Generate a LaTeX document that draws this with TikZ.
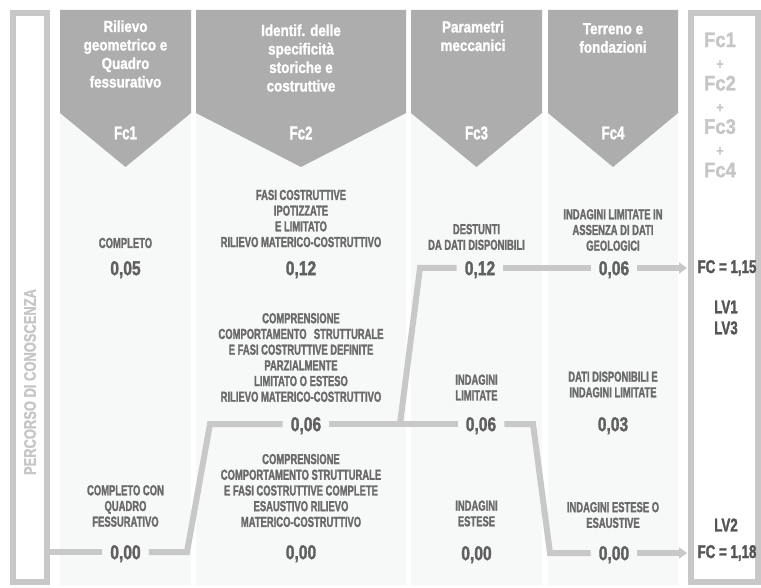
\documentclass[tikz,border=0pt]{standalone}
\usepackage{fontspec}
\setmainfont{Liberation Sans}
\newfontfamily\hdfont{Liberation Sans Bold}[FakeStretch=0.84,FakeBold=1.5]
\newfontfamily\bdfont{Liberation Sans Bold}[FakeStretch=0.65,FakeBold=1.5]
\newfontfamily\nmfont{Liberation Sans Bold}[FakeStretch=0.78,FakeBold=1.5]
\newfontfamily\fcfont{Liberation Sans Bold}[FakeStretch=0.72,FakeBold=1.5]
\newfontfamily\rcfont{Liberation Sans Bold}[FakeStretch=0.88,FakeBold=1.3]
\newfontfamily\vtfont{Liberation Sans Bold}[FakeStretch=0.76,FakeBold=1.2]
\usetikzlibrary{arrows.meta}
\definecolor{hdgray}{HTML}{ADADAD}
\definecolor{colbg}{HTML}{F7F8F8}
\definecolor{linegray}{HTML}{C8C8C8}
\definecolor{txtgray}{HTML}{6A6A6A}
\definecolor{numgray}{HTML}{606060}
\definecolor{lightfc}{HTML}{C6C6C6}
\definecolor{darkfc}{HTML}{555555}
\tikzset{
  hd/.style={font=\hdfont\fontsize{16}{18.5}\selectfont, text=white, align=center, inner sep=0pt},
  fclab/.style={font=\fcfont\fontsize{18.5}{18.5}\selectfont, text=white, inner sep=0pt},
  bd/.style={font=\bdfont\fontsize{14.5}{15.7}\selectfont, text=txtgray, align=center, inner sep=0pt},
  num/.style={font=\nmfont\fontsize{20}{20}\selectfont, text=numgray, inner xsep=8pt, inner ysep=0pt, text height=14.3pt, text depth=0pt},
  rc/.style={font=\rcfont\fontsize{21}{21.7}\selectfont, text=lightfc, align=center, inner sep=0pt},
  res/.style={font=\fcfont\fontsize{18.5}{21}\selectfont, text=darkfc, align=center, inner sep=0pt},
  vt/.style={font=\vtfont\fontsize{17}{17}\selectfont, text=lightfc, rotate=90, inner sep=0pt},
  frame/.style={draw=linegray, line width=6pt},
  conn/.style={draw=linegray, line width=6pt},
  arr/.style={conn, -{Triangle[length=8pt,width=11pt]}},
  colfill/.style={fill=colbg},
  head/.style={fill=hdgray}
}
\begin{document}
\begin{tikzpicture}[x=1pt,y=-1pt]
\useasboundingbox (0,0) rectangle (761,588);
\fill[white] (0,0) rectangle (761,588);
% column backgrounds
\fill[colfill] (60,10) rectangle (191,585);
\fill[colfill] (196,10) rectangle (406,585);
\fill[colfill] (411,10) rectangle (542,585);
\fill[colfill] (548,10) rectangle (678,585);
% header arrows
\fill[head] (60,10) -- (191,10) -- (191,113) -- (125.5,167) -- (60,113) -- cycle;
\fill[head] (196,10) -- (406,10) -- (406,113) -- (301,167) -- (196,113) -- cycle;
\fill[head] (411,10) -- (542,10) -- (542,113) -- (476.5,167) -- (411,113) -- cycle;
\fill[head] (548,10) -- (678,10) -- (678,113) -- (613,167) -- (548,113) -- cycle;
% frames
\draw[frame] (13,13) rectangle (47,582);
\draw[frame] (690.5,13) rectangle (758,582);
% header texts
\node[hd] (h1) at (125.5,54) {Rilievo\\geometrico e\\Quadro\\fessurativo};
\node[hd] (h2) at (301,58) {Identif. delle\\specificità\\storiche e\\costruttive};
\node[hd] (h3) at (473,36) {Parametri\\meccanici};
\node[hd] (h4) at (613,38) {Terreno e\\fondazioni};
\node[fclab] (fc1) at (125.5,133) {Fc1};
\node[fclab] (fc2) at (301,133) {Fc2};
\node[fclab] (fc3) at (476.5,133) {Fc3};
\node[fclab] (fc4) at (613,133) {Fc4};
% vertical label
\node[vt] (perc) at (30,382) {PERCORSO DI CONOSCENZA};
% column 1
\node[bd] (t1a) at (125.5,243) {COMPLETO};
\node[num] (f1a) at (125.5,268) {0,05};
\node[bd] (t1c) at (125.5,506) {COMPLETO CON\\QUADRO\\FESSURATIVO};
\node[num] (f1c) at (125.5,552) {0,00};
% column 2
\node[bd] (t2a) at (301,218.5) {FASI COSTRUTTIVE\\IPOTIZZATE\\E LIMITATO\\RILIEVO MATERICO-COSTRUTTIVO};
\node[num] (f2a) at (301,268) {0,12};
\node[bd] (t2b) at (301,357.5) {COMPRENSIONE\\COMPORTAMENTO\enspace STRUTTURALE\\E FASI COSTRUTTIVE DEFINITE\\PARZIALMENTE\\LIMITATO O ESTESO\\RILIEVO MATERICO-COSTRUTTIVO};
\node[num] (f2b) at (306,424) {0,06};
\node[bd] (t2c) at (301,490.5) {COMPRENSIONE\\COMPORTAMENTO STRUTTURALE\\E FASI COSTRUTTIVE COMPLETE\\ESAUSTIVO RILIEVO\\MATERICO-COSTRUTTIVO};
\node[num] (f2c) at (301,552) {0,00};
% column 3
\node[bd] (t3a) at (476.5,237) {DESTUNTI\\DA DATI DISPONIBILI};
\node[num] (f3a) at (480,268) {0,12};
\node[bd] (t3b) at (476.5,387.5) {INDAGINI\\LIMITATE};
\node[num] (f3b) at (481,424) {0,06};
\node[bd] (t3c) at (476.5,513.5) {INDAGINI\\ESTESE};
\node[num] (f3c) at (476.5,553) {0,00};
% column 4
\node[bd] (t4a) at (613,230) {INDAGINI LIMITATE IN\\ASSENZA DI DATI\\GEOLOGICI};
\node[num] (f4a) at (614,268) {0,06};
\node[bd] (t4b) at (613,384.5) {DATI DISPONIBILI E\\INDAGINI LIMITATE};
\node[num] (f4b) at (613,424) {0,03};
\node[bd] (t4c) at (613,515) {INDAGINI ESTESE O\\ESAUSTIVE};
\node[num] (f4c) at (614,553) {0,00};
% right column
\node[rc] (sum) at (720,105) {Fc1\\{\fontsize{14}{21.7}\selectfont +}\\Fc2\\{\fontsize{14}{21.7}\selectfont +}\\Fc3\\{\fontsize{14}{21.7}\selectfont +}\\Fc4};
\node[res] (fca) at (727,268) {FC = 1,15};
\node[res] (lva) at (726,317.5) {LV1\\LV3};
\node[res] (lvb) at (726,525) {LV2};
\node[res] (fcb) at (727,553) {FC = 1,18};
% connectors
\coordinate (Ls) at (47,552);
\coordinate (b1) at (187,552);
\coordinate (b2) at (210,424);
\coordinate (J) at (400,424);
\coordinate (b3) at (420,268);
\coordinate (b4) at (533,424);
\coordinate (b5) at (550,553);
\coordinate (Rt) at (687,268);
\coordinate (Rb) at (687,553);
\draw[conn] (Ls) -- (f1c.west);
\draw[conn] (f1c.east) -- (b1) -- (b2) -- (f2b.west);
\draw[conn] (f2b.east) -- (f3b.west);
\draw[conn] (J) -- (b3) -- (f3a.west);
\draw[conn] (f3a.east) -- (f4a.west);
\draw[arr] (f4a.east) -- (Rt);
\draw[conn] (f3b.east) -- (b4) -- (b5) -- (f4c.west);
\draw[arr] (f4c.east) -- (Rb);
\end{tikzpicture}
\end{document}
